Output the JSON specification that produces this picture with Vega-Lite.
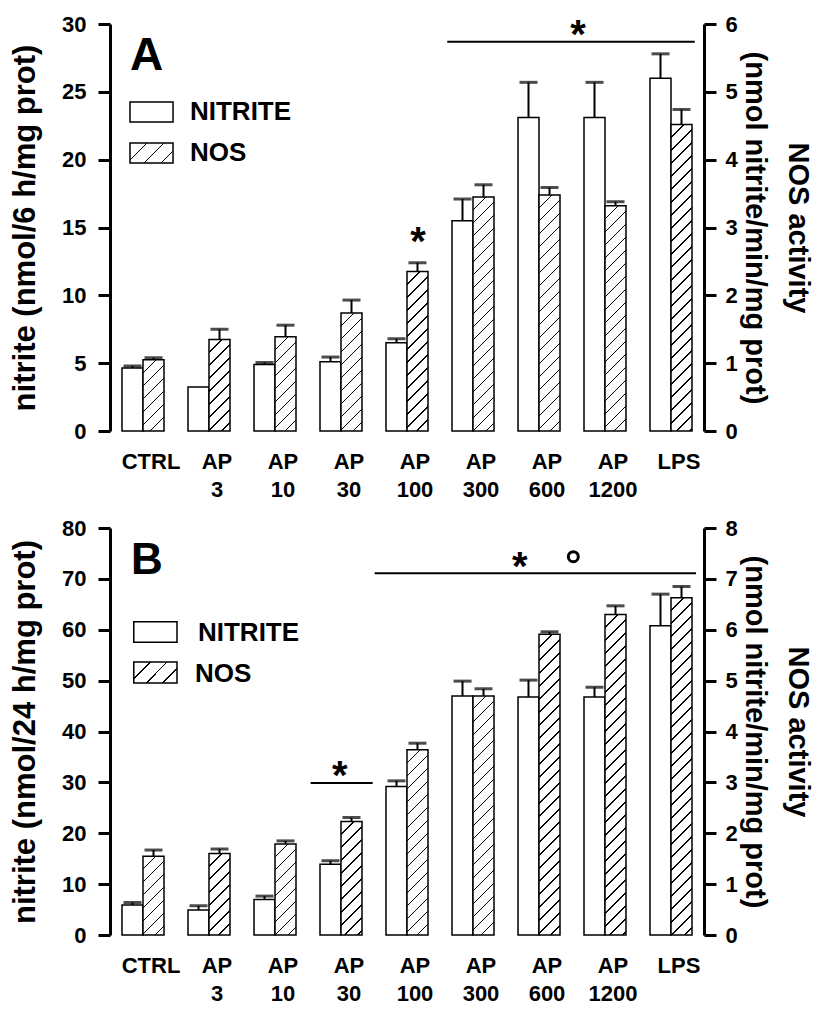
{
  "$schema": "https://vega.github.io/schema/vega-lite/v6.json",
  "padding": {"left": 9, "top": 13, "right": 14, "bottom": 0},
  "config": {"font": "Liberation Sans", "view": {"stroke": null}, "axis": {"grid": false}},
  "params": [
    {"name": "hs", "value": [
      {"offset": 0, "color": "white"},
      {"offset": 0.03075, "color": "white"}, {"offset": 0.03075, "color": "black"}, {"offset": 0.03425, "color": "black"}, {"offset": 0.03425, "color": "white"},
      {"offset": 0.06325, "color": "white"}, {"offset": 0.06325, "color": "black"}, {"offset": 0.06675, "color": "black"}, {"offset": 0.06675, "color": "white"},
      {"offset": 0.09575, "color": "white"}, {"offset": 0.09575, "color": "black"}, {"offset": 0.09925, "color": "black"}, {"offset": 0.09925, "color": "white"},
      {"offset": 0.12825, "color": "white"}, {"offset": 0.12825, "color": "black"}, {"offset": 0.13175, "color": "black"}, {"offset": 0.13175, "color": "white"},
      {"offset": 0.16075, "color": "white"}, {"offset": 0.16075, "color": "black"}, {"offset": 0.16425, "color": "black"}, {"offset": 0.16425, "color": "white"},
      {"offset": 0.19325, "color": "white"}, {"offset": 0.19325, "color": "black"}, {"offset": 0.19675, "color": "black"}, {"offset": 0.19675, "color": "white"},
      {"offset": 0.22575, "color": "white"}, {"offset": 0.22575, "color": "black"}, {"offset": 0.22925, "color": "black"}, {"offset": 0.22925, "color": "white"},
      {"offset": 0.25825, "color": "white"}, {"offset": 0.25825, "color": "black"}, {"offset": 0.26175, "color": "black"}, {"offset": 0.26175, "color": "white"},
      {"offset": 0.29075, "color": "white"}, {"offset": 0.29075, "color": "black"}, {"offset": 0.29425, "color": "black"}, {"offset": 0.29425, "color": "white"},
      {"offset": 0.32325, "color": "white"}, {"offset": 0.32325, "color": "black"}, {"offset": 0.32675, "color": "black"}, {"offset": 0.32675, "color": "white"},
      {"offset": 0.35575, "color": "white"}, {"offset": 0.35575, "color": "black"}, {"offset": 0.35925, "color": "black"}, {"offset": 0.35925, "color": "white"},
      {"offset": 0.38825, "color": "white"}, {"offset": 0.38825, "color": "black"}, {"offset": 0.39175, "color": "black"}, {"offset": 0.39175, "color": "white"},
      {"offset": 0.42075, "color": "white"}, {"offset": 0.42075, "color": "black"}, {"offset": 0.42425, "color": "black"}, {"offset": 0.42425, "color": "white"},
      {"offset": 0.45325, "color": "white"}, {"offset": 0.45325, "color": "black"}, {"offset": 0.45675, "color": "black"}, {"offset": 0.45675, "color": "white"},
      {"offset": 0.48575, "color": "white"}, {"offset": 0.48575, "color": "black"}, {"offset": 0.48925, "color": "black"}, {"offset": 0.48925, "color": "white"},
      {"offset": 0.51825, "color": "white"}, {"offset": 0.51825, "color": "black"}, {"offset": 0.52175, "color": "black"}, {"offset": 0.52175, "color": "white"},
      {"offset": 0.55075, "color": "white"}, {"offset": 0.55075, "color": "black"}, {"offset": 0.55425, "color": "black"}, {"offset": 0.55425, "color": "white"},
      {"offset": 0.58325, "color": "white"}, {"offset": 0.58325, "color": "black"}, {"offset": 0.58675, "color": "black"}, {"offset": 0.58675, "color": "white"},
      {"offset": 0.61575, "color": "white"}, {"offset": 0.61575, "color": "black"}, {"offset": 0.61925, "color": "black"}, {"offset": 0.61925, "color": "white"},
      {"offset": 0.64825, "color": "white"}, {"offset": 0.64825, "color": "black"}, {"offset": 0.65175, "color": "black"}, {"offset": 0.65175, "color": "white"},
      {"offset": 0.68075, "color": "white"}, {"offset": 0.68075, "color": "black"}, {"offset": 0.68425, "color": "black"}, {"offset": 0.68425, "color": "white"},
      {"offset": 0.71325, "color": "white"}, {"offset": 0.71325, "color": "black"}, {"offset": 0.71675, "color": "black"}, {"offset": 0.71675, "color": "white"},
      {"offset": 0.74575, "color": "white"}, {"offset": 0.74575, "color": "black"}, {"offset": 0.74925, "color": "black"}, {"offset": 0.74925, "color": "white"},
      {"offset": 0.77825, "color": "white"}, {"offset": 0.77825, "color": "black"}, {"offset": 0.78175, "color": "black"}, {"offset": 0.78175, "color": "white"},
      {"offset": 0.81075, "color": "white"}, {"offset": 0.81075, "color": "black"}, {"offset": 0.81425, "color": "black"}, {"offset": 0.81425, "color": "white"},
      {"offset": 0.84325, "color": "white"}, {"offset": 0.84325, "color": "black"}, {"offset": 0.84675, "color": "black"}, {"offset": 0.84675, "color": "white"},
      {"offset": 0.87575, "color": "white"}, {"offset": 0.87575, "color": "black"}, {"offset": 0.87925, "color": "black"}, {"offset": 0.87925, "color": "white"},
      {"offset": 0.90825, "color": "white"}, {"offset": 0.90825, "color": "black"}, {"offset": 0.91175, "color": "black"}, {"offset": 0.91175, "color": "white"},
      {"offset": 0.94075, "color": "white"}, {"offset": 0.94075, "color": "black"}, {"offset": 0.94425, "color": "black"}, {"offset": 0.94425, "color": "white"},
      {"offset": 0.97325, "color": "white"}, {"offset": 0.97325, "color": "black"}, {"offset": 0.97675, "color": "black"}, {"offset": 0.97675, "color": "white"},
      {"offset": 1, "color": "white"}
    ]}
  ],
  "datasets": {
    "A": [
      {"group": "CTRL", "s": "NITRITE", "v": 4.65, "hi": 4.8},
      {"group": "CTRL", "s": "NOS", "v": 1.05, "hi": 1.08},
      {"group": "AP 3", "s": "NITRITE", "v": 3.25, "hi": null},
      {"group": "AP 3", "s": "NOS", "v": 1.35, "hi": 1.5},
      {"group": "AP 10", "s": "NITRITE", "v": 4.9, "hi": 5.05},
      {"group": "AP 10", "s": "NOS", "v": 1.39, "hi": 1.56},
      {"group": "AP 30", "s": "NITRITE", "v": 5.1, "hi": 5.45},
      {"group": "AP 30", "s": "NOS", "v": 1.74, "hi": 1.93},
      {"group": "AP 100", "s": "NITRITE", "v": 6.5, "hi": 6.8},
      {"group": "AP 100", "s": "NOS", "v": 2.35, "hi": 2.48},
      {"group": "AP 300", "s": "NITRITE", "v": 15.5, "hi": 17.1},
      {"group": "AP 300", "s": "NOS", "v": 3.45, "hi": 3.63},
      {"group": "AP 600", "s": "NITRITE", "v": 23.1, "hi": 25.7},
      {"group": "AP 600", "s": "NOS", "v": 3.48, "hi": 3.59},
      {"group": "AP 1200", "s": "NITRITE", "v": 23.1, "hi": 25.7},
      {"group": "AP 1200", "s": "NOS", "v": 3.32, "hi": 3.38},
      {"group": "LPS", "s": "NITRITE", "v": 26.0, "hi": 27.8},
      {"group": "LPS", "s": "NOS", "v": 4.52, "hi": 4.74}
    ],
    "B": [
      {"group": "CTRL", "s": "NITRITE", "v": 5.9, "hi": 6.4},
      {"group": "CTRL", "s": "NOS", "v": 1.55, "hi": 1.67},
      {"group": "AP 3", "s": "NITRITE", "v": 4.9, "hi": 5.75},
      {"group": "AP 3", "s": "NOS", "v": 1.6, "hi": 1.69},
      {"group": "AP 10", "s": "NITRITE", "v": 7.0, "hi": 7.65},
      {"group": "AP 10", "s": "NOS", "v": 1.79, "hi": 1.85},
      {"group": "AP 30", "s": "NITRITE", "v": 13.9, "hi": 14.6},
      {"group": "AP 30", "s": "NOS", "v": 2.23, "hi": 2.31},
      {"group": "AP 100", "s": "NITRITE", "v": 29.2, "hi": 30.3},
      {"group": "AP 100", "s": "NOS", "v": 3.64, "hi": 3.77},
      {"group": "AP 300", "s": "NITRITE", "v": 47.0, "hi": 49.9},
      {"group": "AP 300", "s": "NOS", "v": 4.7, "hi": 4.84},
      {"group": "AP 600", "s": "NITRITE", "v": 46.8, "hi": 50.1},
      {"group": "AP 600", "s": "NOS", "v": 5.91, "hi": 5.96},
      {"group": "AP 1200", "s": "NITRITE", "v": 46.8, "hi": 48.7},
      {"group": "AP 1200", "s": "NOS", "v": 6.3, "hi": 6.47},
      {"group": "LPS", "s": "NITRITE", "v": 60.8, "hi": 67.0},
      {"group": "LPS", "s": "NOS", "v": 6.63, "hi": 6.85}
    ]
  },
  "spacing": 97,
  "bounds": "flush",
  "vconcat": [
    {
      "width": 594,
      "height": 407,
      "resolve": {"scale": {"x": "independent", "y": "independent", "xOffset": "independent"}, "axis": {"x": "independent", "y": "independent"}},
      "layer": [
        {
          "data": {"name": "A"},
          "transform": [{"filter": "datum.s === 'NITRITE'"}],
          "mark": {"type": "bar", "fill": "white", "stroke": "black", "strokeWidth": 1.5},
          "encoding": {
            "x": {"field": "group", "type": "nominal", "scale": {"type": "band", "domain": ["CTRL", "AP 3", "AP 10", "AP 30", "AP 100", "AP 300", "AP 600", "AP 1200", "LPS"], "paddingInner": 0.3636, "paddingOuter": 0.1818},
              "axis": {"orient": "bottom", "title": null, "domain": false, "ticks": false, "labelAngle": 0, "labelExpr": "split(datum.label, ' ')", "labelFont": "Liberation Sans Narrow, Liberation Sans", "labelFontSize": 22, "labelFontWeight": "bold", "labelColor": "black", "labelLineHeight": 28, "labelPadding": 20, "labelOffset": 8, "labelOverlap": false, "labelFlush": false}},
            "xOffset": {"field": "s", "type": "nominal", "scale": {"domain": ["NITRITE", "NOS"], "paddingInner": 0, "paddingOuter": 0}},
            "y": {"field": "v", "type": "quantitative", "scale": {"domain": [0, 30], "nice": false},
              "axis": {"orient": "left", "title": "nitrite (nmol/6 h/mg prot)", "values": [0, 5, 10, 15, 20, 25, 30], "domainWidth": 3, "domainColor": "black", "tickWidth": 3, "tickSize": 12, "tickColor": "black", "labelFontSize": 22, "labelFontWeight": "bold", "labelColor": "black", "labelPadding": 12, "titleFontSize": 31, "titleFontWeight": "bold", "titleColor": "black", "titlePadding": 20}}
          }
        },
        {
          "data": {"name": "A"},
          "transform": [{"filter": "datum.s === 'NOS'"}],
          "mark": {"type": "bar", "stroke": "black", "strokeWidth": 1.5, "fill": {"expr": "{gradient: 'linear', x1: 0, y1: 0, x2: 400*21/(441+pow(datum.v*67.833,2)), y2: 400*datum.v*67.833/(441+pow(datum.v*67.833,2)), stops: hs}"}},
          "encoding": {
            "x": {"field": "group", "type": "nominal", "scale": {"type": "band", "domain": ["CTRL", "AP 3", "AP 10", "AP 30", "AP 100", "AP 300", "AP 600", "AP 1200", "LPS"], "paddingInner": 0.3636, "paddingOuter": 0.1818}, "axis": null},
            "xOffset": {"field": "s", "type": "nominal", "scale": {"domain": ["NITRITE", "NOS"], "paddingInner": 0, "paddingOuter": 0}},
            "y": {"field": "v", "type": "quantitative", "scale": {"domain": [0, 6], "nice": false},
              "axis": {"orient": "right", "title": ["NOS activity", "(nmol nitrite/min/mg prot)"], "values": [0, 1, 2, 3, 4, 5, 6], "domainWidth": 3, "domainColor": "black", "tickWidth": 3, "tickSize": 12, "tickColor": "black", "labelFontSize": 22, "labelFontWeight": "bold", "labelColor": "black", "labelPadding": 9, "titleFontSize": 29, "titleFontWeight": "bold", "titleColor": "black", "titlePadding": 2, "titleLineHeight": 43}}
          }
        },
        {
          "data": {"name": "A"},
          "transform": [{"filter": "datum.s === 'NITRITE' && datum.hi != null"}],
          "mark": {"type": "rule", "color": "black", "strokeWidth": 2},
          "encoding": {
            "x": {"field": "group", "type": "nominal", "scale": {"type": "band", "domain": ["CTRL", "AP 3", "AP 10", "AP 30", "AP 100", "AP 300", "AP 600", "AP 1200", "LPS"], "paddingInner": 0.3636, "paddingOuter": 0.1818}, "axis": null},
            "xOffset": {"field": "s", "type": "nominal", "scale": {"domain": ["NITRITE", "NOS"], "paddingInner": 0, "paddingOuter": 0}},
            "y": {"field": "v", "type": "quantitative", "scale": {"domain": [0, 30], "nice": false}, "axis": null},
            "y2": {"field": "hi"}
          }
        },
        {
          "data": {"name": "A"},
          "transform": [{"filter": "datum.s === 'NITRITE' && datum.hi != null"}],
          "mark": {"type": "tick", "color": "black", "thickness": 3, "size": 18, "orient": "horizontal"},
          "encoding": {
            "x": {"field": "group", "type": "nominal", "scale": {"type": "band", "domain": ["CTRL", "AP 3", "AP 10", "AP 30", "AP 100", "AP 300", "AP 600", "AP 1200", "LPS"], "paddingInner": 0.3636, "paddingOuter": 0.1818}, "axis": null},
            "xOffset": {"field": "s", "type": "nominal", "scale": {"domain": ["NITRITE", "NOS"], "paddingInner": 0, "paddingOuter": 0}},
            "y": {"field": "hi", "type": "quantitative", "scale": {"domain": [0, 30], "nice": false}, "axis": null}
          }
        },
        {
          "data": {"name": "A"},
          "transform": [{"filter": "datum.s === 'NOS' && datum.hi != null"}],
          "mark": {"type": "rule", "color": "black", "strokeWidth": 2},
          "encoding": {
            "x": {"field": "group", "type": "nominal", "scale": {"type": "band", "domain": ["CTRL", "AP 3", "AP 10", "AP 30", "AP 100", "AP 300", "AP 600", "AP 1200", "LPS"], "paddingInner": 0.3636, "paddingOuter": 0.1818}, "axis": null},
            "xOffset": {"field": "s", "type": "nominal", "scale": {"domain": ["NITRITE", "NOS"], "paddingInner": 0, "paddingOuter": 0}},
            "y": {"field": "v", "type": "quantitative", "scale": {"domain": [0, 6], "nice": false}, "axis": null},
            "y2": {"field": "hi"}
          }
        },
        {
          "data": {"name": "A"},
          "transform": [{"filter": "datum.s === 'NOS' && datum.hi != null"}],
          "mark": {"type": "tick", "color": "black", "thickness": 3, "size": 18, "orient": "horizontal"},
          "encoding": {
            "x": {"field": "group", "type": "nominal", "scale": {"type": "band", "domain": ["CTRL", "AP 3", "AP 10", "AP 30", "AP 100", "AP 300", "AP 600", "AP 1200", "LPS"], "paddingInner": 0.3636, "paddingOuter": 0.1818}, "axis": null},
            "xOffset": {"field": "s", "type": "nominal", "scale": {"domain": ["NITRITE", "NOS"], "paddingInner": 0, "paddingOuter": 0}},
            "y": {"field": "hi", "type": "quantitative", "scale": {"domain": [0, 6], "nice": false}, "axis": null}
          }
        },
        {
          "data": {"values": [{"x": 4.61, "x2": 8.36, "y": 28.7}]},
          "mark": {"type": "rule", "color": "black", "strokeWidth": 2},
          "encoding": {
            "x": {"field": "x", "type": "quantitative", "scale": {"domain": [-0.5, 8.5], "nice": false, "zero": false}, "axis": null},
            "x2": {"field": "x2"},
            "y": {"field": "y", "type": "quantitative", "scale": {"domain": [0, 30], "nice": false}, "axis": null}
          }
        },
        {
          "data": {"values": [{"x": 6.59, "y": 28.2, "t": "*"}, {"x": 4.167, "y": 13.0, "t": "*"}]},
          "mark": {"type": "text", "fontSize": 40, "fontWeight": "bold", "align": "center", "baseline": "alphabetic", "color": "black"},
          "encoding": {
            "x": {"field": "x", "type": "quantitative", "scale": {"domain": [-0.5, 8.5], "nice": false, "zero": false}, "axis": null},
            "y": {"field": "y", "type": "quantitative", "scale": {"domain": [0, 30], "nice": false}, "axis": null},
            "text": {"field": "t"}
          }
        },
        {
          "data": {"values": [{"x": -0.197, "y": 26.61, "t": "A"}]},
          "mark": {"type": "text", "fontSize": 46, "fontWeight": "bold", "align": "left", "baseline": "alphabetic", "color": "black"},
          "encoding": {
            "x": {"field": "x", "type": "quantitative", "scale": {"domain": [-0.5, 8.5], "nice": false, "zero": false}, "axis": null},
            "y": {"field": "y", "type": "quantitative", "scale": {"domain": [0, 30], "nice": false}, "axis": null},
            "text": {"field": "t"}
          }
        },
        {
          "data": {"values": [{"x": -0.197, "x2": 0.455, "y": 24.25, "y2": 22.78, "k": "NITRITE"}, {"x": -0.197, "x2": 0.455, "y": 21.23, "y2": 19.75, "k": "NOS"}]},
          "mark": {"type": "rect", "stroke": "black", "strokeWidth": 1.5, "fill": {"expr": "datum.k === 'NOS' ? {gradient: 'linear', x1: 0, y1: 0, x2: 10.0, y2: 4.65, stops: hs} : 'white'"}},
          "encoding": {
            "x": {"field": "x", "type": "quantitative", "scale": {"domain": [-0.5, 8.5], "nice": false, "zero": false}, "axis": null},
            "x2": {"field": "x2"},
            "y": {"field": "y", "type": "quantitative", "scale": {"domain": [0, 30], "nice": false}, "axis": null},
            "y2": {"field": "y2"}
          }
        },
        {
          "data": {"values": [{"x": 0.712, "y": 23.51, "t": "NITRITE"}, {"x": 0.712, "y": 20.49, "t": "NOS"}]},
          "mark": {"type": "text", "fontSize": 26, "fontWeight": "bold", "align": "left", "baseline": "middle", "color": "black"},
          "encoding": {
            "x": {"field": "x", "type": "quantitative", "scale": {"domain": [-0.5, 8.5], "nice": false, "zero": false}, "axis": null},
            "y": {"field": "y", "type": "quantitative", "scale": {"domain": [0, 30], "nice": false}, "axis": null},
            "text": {"field": "t"}
          }
        }
      ]
    },
    {
      "width": 594,
      "height": 407,
      "resolve": {"scale": {"x": "independent", "y": "independent", "xOffset": "independent"}, "axis": {"x": "independent", "y": "independent"}},
      "layer": [
        {
          "data": {"name": "B"},
          "transform": [{"filter": "datum.s === 'NITRITE'"}],
          "mark": {"type": "bar", "fill": "white", "stroke": "black", "strokeWidth": 1.5},
          "encoding": {
            "x": {"field": "group", "type": "nominal", "scale": {"type": "band", "domain": ["CTRL", "AP 3", "AP 10", "AP 30", "AP 100", "AP 300", "AP 600", "AP 1200", "LPS"], "paddingInner": 0.3636, "paddingOuter": 0.1818},
              "axis": {"orient": "bottom", "title": null, "domain": false, "ticks": false, "labelAngle": 0, "labelExpr": "split(datum.label, ' ')", "labelFont": "Liberation Sans Narrow, Liberation Sans", "labelFontSize": 22, "labelFontWeight": "bold", "labelColor": "black", "labelLineHeight": 28, "labelPadding": 20, "labelOffset": 8, "labelOverlap": false, "labelFlush": false}},
            "xOffset": {"field": "s", "type": "nominal", "scale": {"domain": ["NITRITE", "NOS"], "paddingInner": 0, "paddingOuter": 0}},
            "y": {"field": "v", "type": "quantitative", "scale": {"domain": [0, 80], "nice": false},
              "axis": {"orient": "left", "title": "nitrite (nmol/24 h/mg prot)", "values": [0, 10, 20, 30, 40, 50, 60, 70, 80], "domainWidth": 3, "domainColor": "black", "tickWidth": 3, "tickSize": 12, "tickColor": "black", "labelFontSize": 22, "labelFontWeight": "bold", "labelColor": "black", "labelPadding": 12, "titleFontSize": 31, "titleFontWeight": "bold", "titleColor": "black", "titlePadding": 20}}
          }
        },
        {
          "data": {"name": "B"},
          "transform": [{"filter": "datum.s === 'NOS'"}],
          "mark": {"type": "bar", "stroke": "black", "strokeWidth": 1.5, "fill": {"expr": "{gradient: 'linear', x1: 0, y1: 0, x2: 400*21/(441+pow(datum.v*50.875,2)), y2: 400*datum.v*50.875/(441+pow(datum.v*50.875,2)), stops: hs}"}},
          "encoding": {
            "x": {"field": "group", "type": "nominal", "scale": {"type": "band", "domain": ["CTRL", "AP 3", "AP 10", "AP 30", "AP 100", "AP 300", "AP 600", "AP 1200", "LPS"], "paddingInner": 0.3636, "paddingOuter": 0.1818}, "axis": null},
            "xOffset": {"field": "s", "type": "nominal", "scale": {"domain": ["NITRITE", "NOS"], "paddingInner": 0, "paddingOuter": 0}},
            "y": {"field": "v", "type": "quantitative", "scale": {"domain": [0, 8], "nice": false},
              "axis": {"orient": "right", "title": ["NOS activity", "(nmol nitrite/min/mg prot)"], "values": [0, 1, 2, 3, 4, 5, 6, 7, 8], "domainWidth": 3, "domainColor": "black", "tickWidth": 3, "tickSize": 12, "tickColor": "black", "labelFontSize": 22, "labelFontWeight": "bold", "labelColor": "black", "labelPadding": 9, "titleFontSize": 29, "titleFontWeight": "bold", "titleColor": "black", "titlePadding": 2, "titleLineHeight": 43}}
          }
        },
        {
          "data": {"name": "B"},
          "transform": [{"filter": "datum.s === 'NITRITE' && datum.hi != null"}],
          "mark": {"type": "rule", "color": "black", "strokeWidth": 2},
          "encoding": {
            "x": {"field": "group", "type": "nominal", "scale": {"type": "band", "domain": ["CTRL", "AP 3", "AP 10", "AP 30", "AP 100", "AP 300", "AP 600", "AP 1200", "LPS"], "paddingInner": 0.3636, "paddingOuter": 0.1818}, "axis": null},
            "xOffset": {"field": "s", "type": "nominal", "scale": {"domain": ["NITRITE", "NOS"], "paddingInner": 0, "paddingOuter": 0}},
            "y": {"field": "v", "type": "quantitative", "scale": {"domain": [0, 80], "nice": false}, "axis": null},
            "y2": {"field": "hi"}
          }
        },
        {
          "data": {"name": "B"},
          "transform": [{"filter": "datum.s === 'NITRITE' && datum.hi != null"}],
          "mark": {"type": "tick", "color": "black", "thickness": 3, "size": 18, "orient": "horizontal"},
          "encoding": {
            "x": {"field": "group", "type": "nominal", "scale": {"type": "band", "domain": ["CTRL", "AP 3", "AP 10", "AP 30", "AP 100", "AP 300", "AP 600", "AP 1200", "LPS"], "paddingInner": 0.3636, "paddingOuter": 0.1818}, "axis": null},
            "xOffset": {"field": "s", "type": "nominal", "scale": {"domain": ["NITRITE", "NOS"], "paddingInner": 0, "paddingOuter": 0}},
            "y": {"field": "hi", "type": "quantitative", "scale": {"domain": [0, 80], "nice": false}, "axis": null}
          }
        },
        {
          "data": {"name": "B"},
          "transform": [{"filter": "datum.s === 'NOS' && datum.hi != null"}],
          "mark": {"type": "rule", "color": "black", "strokeWidth": 2},
          "encoding": {
            "x": {"field": "group", "type": "nominal", "scale": {"type": "band", "domain": ["CTRL", "AP 3", "AP 10", "AP 30", "AP 100", "AP 300", "AP 600", "AP 1200", "LPS"], "paddingInner": 0.3636, "paddingOuter": 0.1818}, "axis": null},
            "xOffset": {"field": "s", "type": "nominal", "scale": {"domain": ["NITRITE", "NOS"], "paddingInner": 0, "paddingOuter": 0}},
            "y": {"field": "v", "type": "quantitative", "scale": {"domain": [0, 8], "nice": false}, "axis": null},
            "y2": {"field": "hi"}
          }
        },
        {
          "data": {"name": "B"},
          "transform": [{"filter": "datum.s === 'NOS' && datum.hi != null"}],
          "mark": {"type": "tick", "color": "black", "thickness": 3, "size": 18, "orient": "horizontal"},
          "encoding": {
            "x": {"field": "group", "type": "nominal", "scale": {"type": "band", "domain": ["CTRL", "AP 3", "AP 10", "AP 30", "AP 100", "AP 300", "AP 600", "AP 1200", "LPS"], "paddingInner": 0.3636, "paddingOuter": 0.1818}, "axis": null},
            "xOffset": {"field": "s", "type": "nominal", "scale": {"domain": ["NITRITE", "NOS"], "paddingInner": 0, "paddingOuter": 0}},
            "y": {"field": "hi", "type": "quantitative", "scale": {"domain": [0, 8], "nice": false}, "axis": null}
          }
        },
        {
          "data": {"values": [{"x": 3.51, "x2": 8.38, "y": 71.1}, {"x": 2.54, "x2": 3.48, "y": 29.9}]},
          "mark": {"type": "rule", "color": "black", "strokeWidth": 2},
          "encoding": {
            "x": {"field": "x", "type": "quantitative", "scale": {"domain": [-0.5, 8.5], "nice": false, "zero": false}, "axis": null},
            "x2": {"field": "x2"},
            "y": {"field": "y", "type": "quantitative", "scale": {"domain": [0, 80], "nice": false}, "axis": null}
          }
        },
        {
          "data": {"values": [{"x": 5.71, "y": 69.7, "t": "*"}, {"x": 2.98, "y": 28.6, "t": "*"}]},
          "mark": {"type": "text", "fontSize": 40, "fontWeight": "bold", "align": "center", "baseline": "alphabetic", "color": "black"},
          "encoding": {
            "x": {"field": "x", "type": "quantitative", "scale": {"domain": [-0.5, 8.5], "nice": false, "zero": false}, "axis": null},
            "y": {"field": "y", "type": "quantitative", "scale": {"domain": [0, 80], "nice": false}, "axis": null},
            "text": {"field": "t"}
          }
        },
        {
          "data": {"values": [{"x": 6.52, "y": 74.36}]},
          "mark": {"type": "point", "shape": "circle", "filled": false, "stroke": "black", "strokeWidth": 3, "size": 100, "opacity": 1},
          "encoding": {
            "x": {"field": "x", "type": "quantitative", "scale": {"domain": [-0.5, 8.5], "nice": false, "zero": false}, "axis": null},
            "y": {"field": "y", "type": "quantitative", "scale": {"domain": [0, 80], "nice": false}, "axis": null}
          }
        },
        {
          "data": {"values": [{"x": -0.18, "y": 70.96, "t": "B"}]},
          "mark": {"type": "text", "fontSize": 44, "fontWeight": "bold", "align": "left", "baseline": "alphabetic", "color": "black"},
          "encoding": {
            "x": {"field": "x", "type": "quantitative", "scale": {"domain": [-0.5, 8.5], "nice": false, "zero": false}, "axis": null},
            "y": {"field": "y", "type": "quantitative", "scale": {"domain": [0, 80], "nice": false}, "axis": null},
            "text": {"field": "t"}
          }
        },
        {
          "data": {"values": [{"x": -0.14, "x2": 0.515, "y": 61.58, "y2": 57.53, "k": "NITRITE"}, {"x": -0.14, "x2": 0.515, "y": 53.66, "y2": 49.53, "k": "NOS"}]},
          "mark": {"type": "rect", "stroke": "black", "strokeWidth": 1.5, "fill": {"expr": "datum.k === 'NOS' ? {gradient: 'linear', x1: 0, y1: 0, x2: 9.6, y2: 4.6, stops: hs} : 'white'"}},
          "encoding": {
            "x": {"field": "x", "type": "quantitative", "scale": {"domain": [-0.5, 8.5], "nice": false, "zero": false}, "axis": null},
            "x2": {"field": "x2"},
            "y": {"field": "y", "type": "quantitative", "scale": {"domain": [0, 80], "nice": false}, "axis": null},
            "y2": {"field": "y2"}
          }
        },
        {
          "data": {"values": [{"x": 0.833, "y": 59.36, "t": "NITRITE"}, {"x": 0.788, "y": 51.3, "t": "NOS"}]},
          "mark": {"type": "text", "fontSize": 26, "fontWeight": "bold", "align": "left", "baseline": "middle", "color": "black"},
          "encoding": {
            "x": {"field": "x", "type": "quantitative", "scale": {"domain": [-0.5, 8.5], "nice": false, "zero": false}, "axis": null},
            "y": {"field": "y", "type": "quantitative", "scale": {"domain": [0, 80], "nice": false}, "axis": null},
            "text": {"field": "t"}
          }
        }
      ]
    }
  ]
}
